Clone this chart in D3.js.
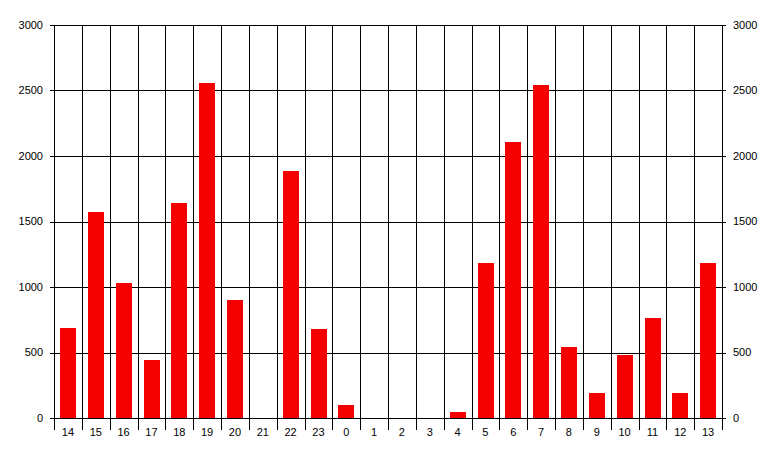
<!DOCTYPE html>
<html lang="en">
<head>
<meta charset="UTF-8">
<title>Chart</title>
<script src="https://cdn.jsdelivr.net/npm/d3@7"></script>
<style>
  body { margin: 0; background: #fff; }
  text { font-family: "Liberation Sans", Arial, sans-serif; font-size: 11px; fill: #000; }
</style>
</head>
<body>
<div id="chart"></div>
<script>
// hours shown on the x axis (starts at 14, wraps around midnight)
var hours = ["14","15","16","17","18","19","20","21","22","23","0","1","2","3","4","5","6","7","8","9","10","11","12","13"];
var counts = [690, 1575, 1030, 445, 1640, 2555, 900, 0, 1885, 680, 100, 0, 0, 0, 45, 1185, 2105, 2540, 545, 190, 480, 765, 190, 1185];
var yTicks = [0, 500, 1000, 1500, 2000, 2500, 3000];

var W = 777, H = 457;
var margin = {top: 25, right: 55, bottom: 39, left: 54};
var width = W - margin.left - margin.right,
    height = H - margin.top - margin.bottom;

var svg = d3.select("#chart").append("svg")
    .attr("width", W).attr("height", H)
  .append("g")
    .attr("transform", "translate(" + margin.left + "," + margin.top + ")");

var x = d3.scaleBand().domain(hours).range([0, width]).paddingInner(0.44).paddingOuter(0.22);
var step = width / hours.length;
var y = d3.scaleLinear().domain([0, 3000]).range([height, 0]);

// horizontal grid + small ticks on both sides
svg.append("g").selectAll("line")
  .data(yTicks).enter().append("line")
    .attr("x1", -4).attr("x2", width + 4)
    .attr("y1", function(d) { return Math.round(y(d)) + 0.5; })
    .attr("y2", function(d) { return Math.round(y(d)) + 0.5; })
    .attr("stroke", "#000");

// vertical category separators, running down past the axis as ticks
var bounds = d3.range(hours.length + 1);
svg.append("g").selectAll("line")
  .data(bounds).enter().append("line")
    .attr("x1", function(i) { return Math.round(i * step) + 0.5; })
    .attr("x2", function(i) { return Math.round(i * step) + 0.5; })
    .attr("y1", 0).attr("y2", height + 12)
    .attr("stroke", "#000");

// bars
svg.append("g").selectAll("rect")
  .data(counts).enter().append("rect")
    .attr("x", function(d, i) { return Math.round(x(hours[i])); })
    .attr("width", Math.round(x.bandwidth()))
    .attr("y", function(d) { return Math.round(y(d)); })
    .attr("height", function(d) { return height - Math.round(y(d)); })
    .attr("fill", "#f50000");

// left and right value labels
svg.append("g").selectAll("text")
  .data(yTicks).enter().append("text")
    .attr("x", -11).attr("y", function(d) { return y(d); })
    .attr("dy", "0.35em").attr("text-anchor", "end")
    .text(function(d) { return d; });
svg.append("g").selectAll("text")
  .data(yTicks).enter().append("text")
    .attr("x", width + 11).attr("y", function(d) { return y(d); })
    .attr("dy", "0.35em").attr("text-anchor", "start")
    .text(function(d) { return d; });

// hour labels
svg.append("g").selectAll("text")
  .data(hours).enter().append("text")
    .attr("x", function(d) { return x(d) + x.bandwidth() / 2; })
    .attr("y", height + 18)
    .attr("text-anchor", "middle")
    .text(function(d) { return d; });
</script>
</body>
</html>
